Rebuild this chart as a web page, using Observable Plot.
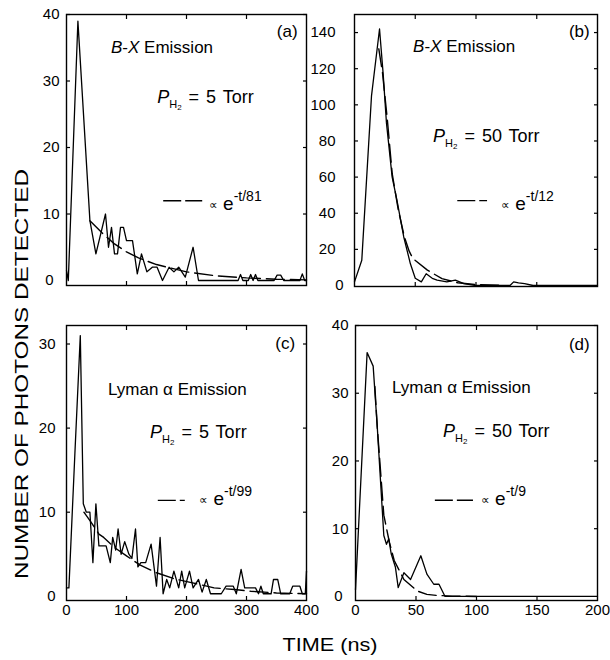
<!DOCTYPE html>
<html><head><meta charset="utf-8">
<script src="https://cdn.jsdelivr.net/npm/d3@7"></script>
<script src="https://cdn.jsdelivr.net/npm/@observablehq/plot@0.6"></script>
<style>
body{margin:0;background:#fff;}
#fig{position:relative;width:610px;height:660px;background:#fff;}
#fig svg{position:absolute;overflow:visible;}
</style></head><body><div id="fig"></div>
<script>
const FONT = '"Liberation Sans", Arial, Helvetica, sans-serif';

// ---- Panel (a): B-X emission, 5 Torr ----
const aTime = [0,3,19,39,49,65,70,75,80,85,90,95,100,110,118,125,134,143,151,160,171,179,187,198,211,220,286,290,294,303,307,311,315,319,346,351,357,362,389,393,397,400];
const aCount = [1.5,0,39,9,4,10,5,8,4,4,8,8,6,6,1,4,1.3,2,2,0,2,1.3,2,0.5,5,0,0,0.9,0,0,0.9,0,0.9,0,0,0.8,0.8,0,0,1,0,0];
const aFitTime = [39,60,80,100,120,150,200,250,300,350,400];
const aFitCount = [9,7.1,5.5,4.3,3.4,2.4,1.3,0.7,0.4,0.2,0.1];
// ---- Panel (b): B-X emission, 50 Torr ----
const bTime = [0,6,14,20.6,23.6,26.3,31,35,40.5,46,50,55,59,64,68,76,83,90,100,128,131,135,140,147,200];
const bCount = [2,14,105,142,117,90,60,47,27,12,4,2,6.5,4,3,2,3,1,0,0,2,1.5,1,0,0];
const bFitTime = [20,23,27,31,36,41,45,48,60,72,85,100,120];
const bFitCount = [131,118,92,62,42,27,19,15,8.5,3.8,1.5,0.5,0.1];
// ---- Panel (c): Lyman alpha, 5 Torr ----
const cTime = [0,4,14,23,28,33,39,44,49,54,66,73,77,82,86,91,97,104,109,115,119,124,132,141,150,156,161,167,172,179,187,192,197,205,211,220,226,233,240,258,266,278,283,291,297,315,320,324,328,341,345,352,357,372,377,389,393,398,400];
const cCount = [1,1,17,31,11,10,10,4,11,6,6,4,7,5.5,8,5,6.5,5,4.5,8,3.5,4,4,6.2,1.2,7,0.3,2,1,3,1,3,1,3,1,2,0.5,2,0.3,0.3,1.2,1.2,0.3,3.2,1,1,0.3,1.2,0.3,0.3,2,2,0.3,0.3,1.2,1.2,0.3,0.3,3];
const cFitTime = [29,40,54,62,80,100,123,150,179,210,246,280,307,350,400];
const cFitCount = [10,8.9,7.4,7,5.8,4.8,3.7,2.8,2.1,1.6,1.0,0.8,0.6,0.4,0.3];
// ---- Panel (d): Lyman alpha, 50 Torr ----
const dTime = [0,9.6,14.6,18,23.4,25.6,27.5,29.5,33,35.3,40,45.5,54,59,64.7,69,74,200];
const dCount = [1,36,34,25,9,7.7,8.5,6.3,4.3,1.3,3.5,2.5,6,3.3,1.8,1.8,0,0];
const dFitTime = [16,18,23.4,28,32,40,51,59,67,80,100];
const dFitCount = [31,25,12,8,5.3,2.5,0.8,0.3,0.15,0.05,0];

// tick labels
const yTicksA = [0,10,20,30,40];
const yTicksB = [0,20,40,60,80,100,120,140];
const yTicksC = [0,10,20,30];
const yTicksD = [0,10,20,30,40];
const xTicksLeft = [0,100,200,300,400];
const xTicksRight = [0,50,100,150,200];

// labels
const panelTags = ["(a)","(b)","(c)","(d)"];
const emissionLabels = ["B-X","B-X","Lyman \u03B1 Emission","Lyman \u03B1 Emission"];
const pressures = ["5","50","5","50"];
const decayConstants = ["81","12","99","9"];

const fig = document.getElementById("fig");
const rows = (T, V) => T.map((t, i) => ({t, v: V[i]}));

const panels = [
  {T:aTime,V:aCount,FT:aFitTime,FV:aFitCount,yT:yTicksA,xT:xTicksLeft,xLab:false,xd:[0,400],yd:[-0.75,40],
   left:0,top:0,w:310,h:300,mL:66,mR:4,mT:14,mB:15,
   tag:[386,36.5],emi:[75,34.1],pr:[152,26.6],dash:[162,227,12],leg:[238,10.6],zeroPad:13,pad:7},
  {T:bTime,V:bCount,FT:bFitTime,FV:bFitCount,yT:yTicksB,xT:xTicksRight,xLab:false,xd:[0,200],yd:[-0.55,150],
   left:300,top:0,w:310,h:300,mL:54,mR:13,mT:14,mB:14,
   tag:[194,137],emi:[48.6,129],pr:[65,79],dash:[85,109.5,47],leg:[121,41.7],zeroPad:11,pad:19},
  {T:cTime,V:cCount,FT:cFitTime,FV:cFitCount,yT:yTicksC,xT:xTicksLeft,xLab:true,xd:[0,400],yd:[-0.5,32.2],
   left:0,top:310,w:310,h:320,mL:66,mR:4,mT:15,mB:30,
   tag:[382,29.3],emi:[70,23.9],pr:[140,18.8],dash:[153,198,11.4],leg:[222,10.8],zeroPad:11,pad:11},
  {T:dTime,V:dCount,FT:dFitTime,FV:dFitCount,yT:yTicksD,xT:xTicksRight,xLab:true,xd:[0,200],yd:[-0.6,40],
   left:300,top:310,w:310,h:320,mL:55,mR:13,mT:15,mB:30,
   tag:[194,36.3],emi:[30.6,30],pr:[72.7,23.5],dash:[66,97.5,14.2],leg:[104,13.4],zeroPad:13,pad:7}
];

panels.forEach((p, k) => {
  const nonzero = p.yT.filter(d => d !== 0);
  const inner = p.xT.filter(d => d !== p.xd[0] && d !== p.xd[1]);
  const plot = Plot.plot({
    width: p.w, height: p.h,
    marginLeft: p.mL, marginRight: p.mR, marginTop: p.mT, marginBottom: p.mB,
    x: {domain: p.xd, label: null},
    y: {domain: p.yd, label: null},
    style: {background: "transparent", overflow: "visible", fontFamily: FONT, fontSize: "15px", color: "black"},
    marks: [
      Plot.axisY(nonzero, {anchor: "left", tickSize: 0, tickPadding: p.pad, fontSize: 15, label: null}),
      Plot.axisY([0], {anchor: "left", tickSize: 0, tickPadding: p.zeroPad, fontSize: 15, label: null}),
      Plot.axisY(nonzero, {anchor: "left", tickSize: -4, fill: "none", label: null, strokeWidth: 1.2}),
      Plot.axisY(nonzero, {anchor: "right", tickSize: -4, fill: "none", label: null, strokeWidth: 1.2}),
      Plot.axisX(inner, {anchor: "bottom", tickSize: -4, fill: "none", label: null, strokeWidth: 1.2}),
      Plot.axisX(inner, {anchor: "top", tickSize: -4, fill: "none", label: null, strokeWidth: 1.2}),
      p.xLab ? Plot.axisX(p.xT, {anchor: "bottom", tickSize: 0, tickPadding: 4, fontSize: 15, label: null}) : null,
      Plot.line(rows(p.FT, p.FV), {x: "t", y: "v", stroke: "black", strokeWidth: 1.4, strokeDasharray: "18,6"}),
      Plot.line(rows(p.T, p.V), {x: "t", y: "v", stroke: "black", strokeWidth: 1.3}),
      Plot.ruleY([p.dash[2]], {x1: p.dash[0], x2: p.dash[1], stroke: "black", strokeWidth: 1.4, strokeDasharray: "18,4"}),
      Plot.frame({stroke: "black", strokeWidth: 1.4})
    ]
  });
  plot.style.left = p.left + "px";
  plot.style.top = p.top + "px";
  const xs = plot.scale("x"), ys = plot.scale("y");
  const sx = d3.scaleLinear(xs.domain, xs.range), sy = d3.scaleLinear(ys.domain, ys.range);
  const g = d3.select(plot).append("g").attr("font-family", FONT).attr("fill", "black")
    .attr("text-anchor", "start");
  // tag
  g.append("text").attr("x", sx(p.tag[0])).attr("y", sy(p.tag[1])).attr("text-anchor", "end")
    .attr("font-size", 17).text(panelTags[k]);
  // emission label
  const e = g.append("text").attr("x", sx(p.emi[0])).attr("y", sy(p.emi[1])).attr("font-size", 17);
  if (emissionLabels[k] === "B-X") {
    e.append("tspan").attr("font-style", "italic").text("B");
    e.append("tspan").text("-");
    e.append("tspan").attr("font-style", "italic").text("X");
    e.append("tspan").text(" Emission");
  } else {
    e.text(emissionLabels[k]);
  }
  // pressure label
  const pr = g.append("text").attr("x", sx(p.pr[0])).attr("y", sy(p.pr[1])).attr("font-size", 18)
    .attr("word-spacing", 2);
  pr.append("tspan").attr("font-style", "italic").text("P");
  pr.append("tspan").attr("font-size", 11).attr("dy", 5).text("H");
  pr.append("tspan").attr("font-size", 8).attr("dy", 2).text("2");
  pr.append("tspan").attr("dy", -7).text("\u00A0= " + pressures[k] + " Torr");
  // legend text
  const lg = g.append("text").attr("x", sx(p.leg[0])).attr("y", sy(p.leg[1])).attr("font-size", 19);
  lg.append("tspan").attr("font-size", 12).attr("dy", -1).text("\u221D");
  lg.append("tspan").attr("dy", 1).text("\u00A0e");
  lg.append("tspan").attr("font-size", 14).attr("dy", -9).text("-t/" + decayConstants[k]);
  fig.appendChild(plot);
});

// axis titles
const ov = d3.select(fig).append("svg").attr("width", 610).attr("height", 660)
  .style("left", "0px").style("top", "0px").attr("font-family", FONT).attr("fill", "black");
ov.append("text").attr("transform", "translate(28,374) rotate(-90)").attr("text-anchor", "middle")
  .attr("font-size", 19).attr("textLength", 410).attr("lengthAdjust", "spacingAndGlyphs")
  .text("NUMBER OF PHOTONS DETECTED");
ov.append("text").attr("x", 330).attr("y", 651).attr("text-anchor", "middle")
  .attr("font-size", 18).attr("textLength", 95).attr("lengthAdjust", "spacingAndGlyphs")
  .text("TIME (ns)");
</script></body></html>
